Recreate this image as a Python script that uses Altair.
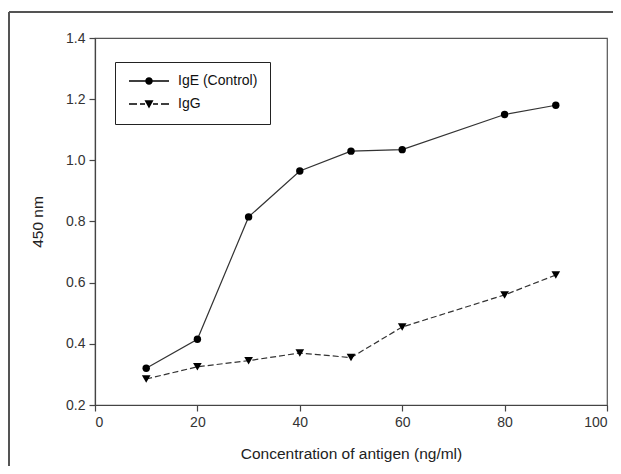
import altair as alt
import pandas as pd

# ---- data ----
concentration = [10, 20, 30, 40, 50, 60, 80, 90]
ige_control = [0.32, 0.415, 0.815, 0.965, 1.03, 1.035, 1.15, 1.18]
igg = [0.285, 0.325, 0.345, 0.37, 0.355, 0.455, 0.56, 0.625]
series_names = ["IgE (Control)", "IgG"]
x_ticks = [0, 20, 40, 60, 80, 100]
y_ticks = [0.2, 0.4, 0.6, 0.8, 1.0, 1.2, 1.4]

rows = []
for c, v in zip(concentration, ige_control):
    rows.append({"conc": c, "value": v, "series": series_names[0]})
for c, v in zip(concentration, igg):
    rows.append({"conc": c, "value": v, "series": series_names[1]})
df = pd.DataFrame(rows)

FONT = "Liberation Sans"
LINE_COLOR = "#333333"

x_enc = alt.X("conc:Q", scale=alt.Scale(domain=[0, 100], nice=False),
              axis=alt.Axis(values=x_ticks, title="Concentration of antigen (ng/ml)"))
y_enc = alt.Y("value:Q", scale=alt.Scale(domain=[0.2, 1.4], nice=False, zero=False),
              axis=alt.Axis(values=y_ticks, format=".1f", title="450 nm"))

base = alt.Chart(df).encode(x=x_enc, y=y_enc)

line_ige = base.transform_filter(alt.datum.series == series_names[0]).mark_line(
    color=LINE_COLOR, strokeWidth=1.2)
line_igg = base.transform_filter(alt.datum.series == series_names[1]).mark_line(
    color=LINE_COLOR, strokeWidth=1.2, strokeDash=[6, 3])
pts_ige = base.transform_filter(alt.datum.series == series_names[0]).mark_point(
    shape="circle", filled=True, color="black", opacity=1, size=55)
pts_igg = base.transform_filter(alt.datum.series == series_names[1]).mark_point(
    shape="triangle-down", filled=True, color="black", opacity=1, size=75)

# legend symbols: line + marker drawn as filled custom symbol paths
def seg(a, b, h=0.13):
    return f"M{a},{-h}L{b},{-h}L{b},{h}L{a},{h}Z"

sym_ige = seg(-1, 7) + "M3.75,0A0.75,0.75,0,1,1,2.25,0A0.75,0.75,0,1,1,3.75,0Z"
sym_igg = (seg(-1, 0.6) + seg(1.2, 2.2) + seg(3.8, 4.8) + seg(5.4, 7)
           + "M2.1,-0.75L3.9,-0.75L3,0.9Z")

legend_layer = alt.Chart(df).transform_filter("false").mark_point(
    filled=True, color="black", opacity=1, size=100
).encode(
    x="conc:Q", y="value:Q",
    shape=alt.Shape("series:N",
                    scale=alt.Scale(domain=series_names, range=[sym_ige, sym_igg]),
                    legend=alt.Legend(
                        title=None, orient="none", legendX=20, legendY=24,
                        strokeColor="#222", padding=12, rowPadding=9,
                        symbolSize=100, symbolFillColor="black",
                        labelOffset=37, labelFont=FONT, labelFontSize=14,
                        labelColor="#111", cornerRadius=0,
                    )),
)

# decorative outer frame (left and top edges of the figure border)
frame_left = alt.Chart(df).mark_rule(color="#555", strokeWidth=1).encode(
    x=alt.value(-86), y=alt.value(-26), y2=alt.value(440))
frame_top = alt.Chart(df).mark_rule(color="#555", strokeWidth=1).encode(
    x=alt.value(-86), x2=alt.value(530), y=alt.value(-26))

chart = alt.layer(
    frame_left, frame_top, line_ige, line_igg, pts_ige, pts_igg, legend_layer
).properties(
    width=512, height=367,
    autosize=alt.AutoSizeParams(type="none"),
    padding={"left": 87, "top": 30, "right": 6, "bottom": 61},
).configure_view(
    stroke="#555", strokeWidth=1.2
).configure_axis(
    grid=False, domainColor="#444", domainWidth=1.2, tickColor="#444",
    tickSize=6, tickWidth=1.2, labelFont=FONT, labelFontSize=14,
    labelColor="#333", titleFont=FONT, titleFontSize=15.5, titleFontWeight="normal",
    titleColor="#222", labelPadding=4,
).configure_axisY(
    titlePadding=20, labelPadding=4
).configure_axisX(
    titlePadding=17
)

chart.save("out.html", embed_options={"renderer": "svg", "actions": False})
